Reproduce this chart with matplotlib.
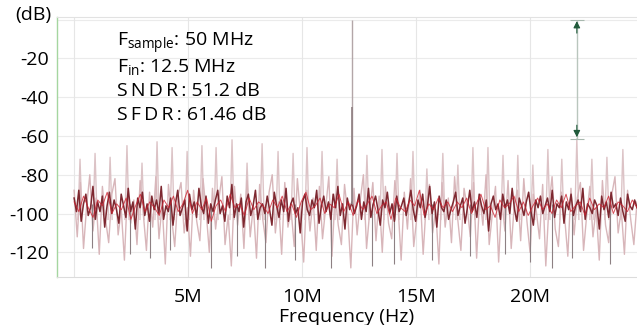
import numpy as np
import matplotlib
matplotlib.use("Agg")
import matplotlib.pyplot as plt

plt.rcParams['font.family'] = ['Open Sans', 'DejaVu Sans']
plt.rcParams['mathtext.default'] = 'regular'

# spectrum values (dB), bins spread over 0 .. 24.7 MHz
f_max = 24.7

dark_db = [
    -92, -99, -88, -104, -95, -90, -101, -97, -86, -103, -94, -99, -91, -107, -96, -89, -100, -93, -98, -105,
    -90, -96, -102, -87, -99, -94, -108, -92, -97, -89, -101, -95, -104, -91, -98, -93, -100, -86, -103, -96,
    -99, -92, -106, -95, -88, -101, -97, -93, -109, -90, -98, -94, -102, -87, -96, -100, -91, -105, -95, -99,
    -93, -88, -100, -96, -104, -91, -97, -85, -102, -95, -99, -92, -107, -94, -90, -101, -96, -88, -103, -97,
    -95, -100, -91, -98, -106, -89, -96, -102, -93, -99, -87, -104, -95, -92, -100, -97, -110, -94, -90, -98,
    -101, -93, -97, -88, -105, -96, -91, -99, -94, -103, -90, -97, -86, -101, -95, -108, -92, -98, -94, -100,
    -96, -90, -103, -94, -99, -87, -102, -95, -91, -98, -106, -93, -97, -89, -100, -95, -104, -91, -99, -96,
    -92, -101, -95, -88, -98, -104, -93, -97, -90, -102, -96, -86, -100, -94, -107, -91, -97, -99, -93, -103,
    -98, -94, -89, -101, -96, -92, -105, -97, -88, -99, -94, -102, -90, -96, -100, -93, -109, -95, -91, -98,
    -95, -103, -90, -97, -93, -100, -87, -98, -104, -92, -96, -101, -94, -89, -99, -106, -93, -97, -91, -100,
    -96, -92, -99, -88, -102, -95, -97, -91, -105, -94, -98, -90, -101, -96, -93, -99, -87, -103, -95, -97,
    -100, -93, -96, -108, -91, -98, -94, -102, -89, -97, -95, -101, -92, -99, -104, -90, -96, -98, -93, -97,
]

red_db = [
    -94, -99, -91, -97, -102, -93, -96, -89, -100, -95, -98, -92, -103, -96, -90, -99, -94, -97, -101, -93,
    -97, -91, -99, -95, -88, -100, -94, -98, -92, -104, -96, -93, -99, -90, -97, -95, -101, -92, -98, -94,
    -96, -100, -93, -97, -91, -99, -95, -102, -94, -89, -98, -96, -92, -100, -95, -97, -90, -99, -94, -101,
    -93, -98, -95, -91, -100, -96, -94, -103, -92, -97, -99, -93, -96, -88, -101, -95, -98, -92, -97, -94,
    -99, -94, -97, -92, -100, -95, -90, -98, -96, -102, -93, -97, -95, -91, -99, -94, -101, -96, -92, -98,
    -95, -100, -93, -97, -90, -99, -96, -94, -101, -92, -98, -95, -97, -91, -100, -94, -96, -99, -93, -97,
]

light_db = [
    -88, -112, -84, -118, -96, -80, -109, -92, -121, -86, -103, -115, -90, -82, -111, -98, -124, -87, -105, -93,
    -116, -83, -100, -119, -89, -107, -81, -113, -95, -126, -85, -102, -117, -91, -84, -110, -97, -122, -88, -104,
    -114, -82, -99, -120, -87, -108, -93, -81, -116, -101, -127, -86, -106, -90, -118, -83, -112, -96, -123, -85,
    -103, -115, -89, -80, -110, -94, -121, -84, -107, -98, -117, -82, -101, -125, -88, -109, -92, -119, -86, -113,
    -97, -81, -122, -90, -106, -116, -85, -100, -128, -87, -111, -93, -80, -118, -99, -84, -114, -91, -120, -86,
    -105, -113, -83, -96, -124, -89, -108, -82, -117, -102, -88, -121, -94, -85, -110, -98, -126, -84, -107, -92,
    -115, -81, -103, -119, -87, -97, -112, -84, -123, -91, -106, -80, -116, -100, -86, -125, -93, -109, -83, -118,
    -95, -88, -114, -82, -104, -120, -90, -99, -113, -85, -127, -96, -81, -108, -117, -89, -102, -122, -87, -111,
    -92, -84, -119, -101, -86, -112, -97, -124, -83, -106, -115, -90, -81, -110, -98, -121, -88, -103, -116, -94,
]

# regular spurs (MHz, dB)
spur_f = [0.26, 0.92, 1.58, 2.32, 2.98, 3.64, 4.30, 4.96, 5.61, 6.23, 6.93, 7.59,
          8.25, 8.95, 9.61, 10.22, 10.88, 11.54, 12.85, 13.51, 14.17, 14.87, 15.48, 16.18,
          16.84, 17.50, 18.16, 18.82, 19.47, 20.13, 20.79, 21.40, 22.06, 22.72, 23.38, 24.08]
spur_db = [-72, -69, -71, -65, -74, -63, -66, -68, -65, -66, -62, -74,
           -64, -68, -69, -66, -68, -72, -70, -67, -69, -68, -77, -69,
           -75, -66, -66, -70, -70, -75, -67, -72, -61.5, -72, -71, -67]

# deep notches
dip_f = [0.80, 2.47, 3.35, 4.22, 6.01, 7.15, 8.38, 9.69, 11.27, 13.07, 14.04, 15.70,
         17.37, 18.90, 20.00, 20.96, 21.84, 23.51]
dip_db = [-118, -121, -123, -119, -128, -122, -128, -124, -128, -127, -126, -124,
          -122, -121, -125, -128, -123, -126]

tone_f = 12.19
tone_peak = 0
tone_avg = -45

sfdr_f = 22.06
sfdr_top = 0
sfdr_bottom = -61.46

yticks = [-20, -40, -60, -80, -100, -120]
xticks = [5, 10, 15, 20]
xticklabels = ['5M', '10M', '15M', '20M']

fig = plt.figure(figsize=(6.37, 3.25), dpi=100)
ax = fig.add_axes([57 / 637, 48 / 325, 580 / 637, 260 / 325])

floor = -95
# spurs drawn as thin triangles: up from the floor on both sides
half = 0.09
for f, d in zip(spur_f, spur_db):
    ax.plot([f - half, f, f + half], [floor - 8, d, floor - 8], color='#dcc3c6', lw=1.0, zorder=2)
ax.plot(np.linspace(0, f_max, len(light_db)), light_db, color='#d8b6ba', lw=1.0, zorder=2)
ax.vlines(dip_f, floor, dip_db, color='#8d8083', lw=0.8, zorder=2)
ax.plot(np.linspace(0, f_max, len(dark_db)), dark_db, color='#7e2830', lw=1.1, zorder=3)
ax.plot(np.linspace(0, f_max, len(red_db)), red_db, color='#cc2230', lw=0.7, alpha=0.8, zorder=4)

ax.vlines([tone_f], floor, tone_peak, color='#b3a6a8', lw=1.0, zorder=3)
ax.vlines([tone_f], floor, tone_avg, color='#8f7f82', lw=1.2, zorder=3)

# SFDR marker
ax.vlines([sfdr_f], sfdr_bottom, sfdr_top, color='#b9c6bd', lw=1.0, zorder=5)
ax.annotate('', xy=(sfdr_f, sfdr_top - 0.8), xytext=(sfdr_f, sfdr_top - 7),
            arrowprops=dict(arrowstyle='-|>', color='#1f5a3a', lw=0.8,
                            mutation_scale=10, shrinkA=0, shrinkB=0), zorder=6)
ax.annotate('', xy=(sfdr_f, sfdr_bottom + 0.8), xytext=(sfdr_f, sfdr_bottom + 7),
            arrowprops=dict(arrowstyle='-|>', color='#1f5a3a', lw=0.8,
                            mutation_scale=10, shrinkA=0, shrinkB=0), zorder=6)
ax.hlines([sfdr_top, sfdr_bottom], sfdr_f - 0.3, sfdr_f + 0.3, color='#a8b8ae', lw=0.8, zorder=5)

ax.set_xlim(-0.75, 24.7)
ax.set_ylim(-132.7, 1.3)
ax.set_yticks(yticks)
ax.set_yticklabels([str(v) for v in yticks], fontsize=14)
ax.set_xticks(xticks)
ax.set_xticklabels(xticklabels, fontsize=14)
ax.tick_params(length=0, pad=6)
ax.tick_params(axis='x', pad=8)

for y in [0] + yticks:
    ax.axhline(y, color='#ebebeb', lw=0.8, zorder=0)
for x in [0] + xticks:
    ax.axvline(x, color='#e6e6e6', lw=0.8, zorder=0)

ax.spines['right'].set_visible(False)
ax.spines['left'].set_color('#a5d6a0')
ax.spines['left'].set_linewidth(1.0)
ax.spines['top'].set_color('#e2e2e2')
ax.spines['bottom'].set_color('#dcdcdc')

ax.set_xlabel('Frequency (Hz)', fontsize=14, labelpad=1)
fig.text(15 / 637, 1 - 15 / 325, '(dB)', fontsize=14, va='center', ha='left')

ts = '\u2009'
info = [r'F$_{sample}$: 50 MHz', r'F$_{in}$: 12.5 MHz',
        'S' + ts + 'N' + ts + 'D' + ts + 'R' + ts + ': 51.2 dB',
        'S' + ts + 'F' + ts + 'D' + ts + 'R' + ts + ': 61.46 dB']
for i, t in enumerate(info):
    ax.text(0.103, 0.9 - i * 0.092, t, transform=ax.transAxes, fontsize=14, va='center', ha='left')

fig.savefig('out.png', dpi=100)
